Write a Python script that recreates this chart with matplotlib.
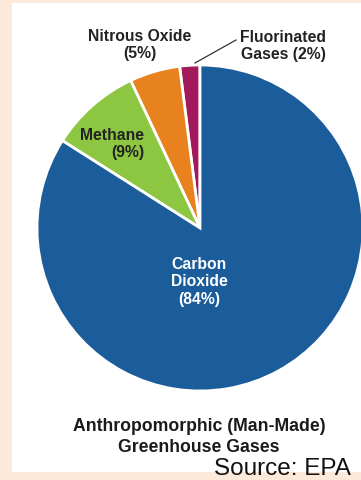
import matplotlib
matplotlib.use("Agg")
import matplotlib.pyplot as plt
from matplotlib.patches import Rectangle

# Data
categories = ["Fluorinated Gases", "Nitrous Oxide", "Methane", "Carbon Dioxide"]
shares = [2, 5, 9, 84]
colors = ["#a21a5c", "#e7821f", "#8dc641", "#1b5c9a"]
title_line1 = "Anthropomorphic (Man-Made)"
title_line2 = "Greenhouse Gases"
source_text = "Source: EPA"

W, H = 361, 480
def Y(y):
    return H - y

plt.rcParams['font.family'] = ['Liberation Sans', 'DejaVu Sans']

fig = plt.figure(figsize=(W / 100, H / 100), dpi=100, facecolor="#fde9d9")
ax = fig.add_axes([0, 0, 1, 1])
ax.set_facecolor("none")

# white panel
ax.add_patch(Rectangle((12, Y(472)), W - 12, 469, facecolor="#ffffff",
                       edgecolor="none", zorder=0))

ax.pie(shares, colors=colors, startangle=90, counterclock=True,
       center=(200, Y(228)), radius=163,
       wedgeprops=dict(edgecolor="white", linewidth=2))

ax.set_xlim(0, W)
ax.set_ylim(0, H)
ax.set_aspect("auto")
ax.axis("off")

lab = dict(fontsize=11.3, fontweight="bold", color="#222222")
ax.text(140, Y(45), "Nitrous Oxide\n(5%)", ha="center", va="center", **lab)
ax.text(283, Y(46), "Fluorinated\nGases (2%)", ha="center", va="center", **lab)
ax.text(144, Y(144), "Methane\n(9%)", ha="right", va="center",
        multialignment="right", **lab)
ax.text(199, Y(282), "Carbon\nDioxide\n(84%)", ha="center", va="center",
        fontsize=11.3, fontweight="bold", color="white")

ax.plot([195, 236], [Y(63), Y(40)], color="#333333", lw=0.9)

tit = dict(fontsize=12.7, fontweight="bold", color="#1a1a1a", ha="center")
ax.text(199, Y(431), title_line1, va="baseline", **tit)
ax.text(199, Y(452), title_line2, va="baseline", **tit)
ax.text(351, Y(475), source_text, ha="right", va="baseline",
        fontsize=17.5, color="#111111")

fig.savefig("out.png", dpi=100, facecolor=fig.get_facecolor())
